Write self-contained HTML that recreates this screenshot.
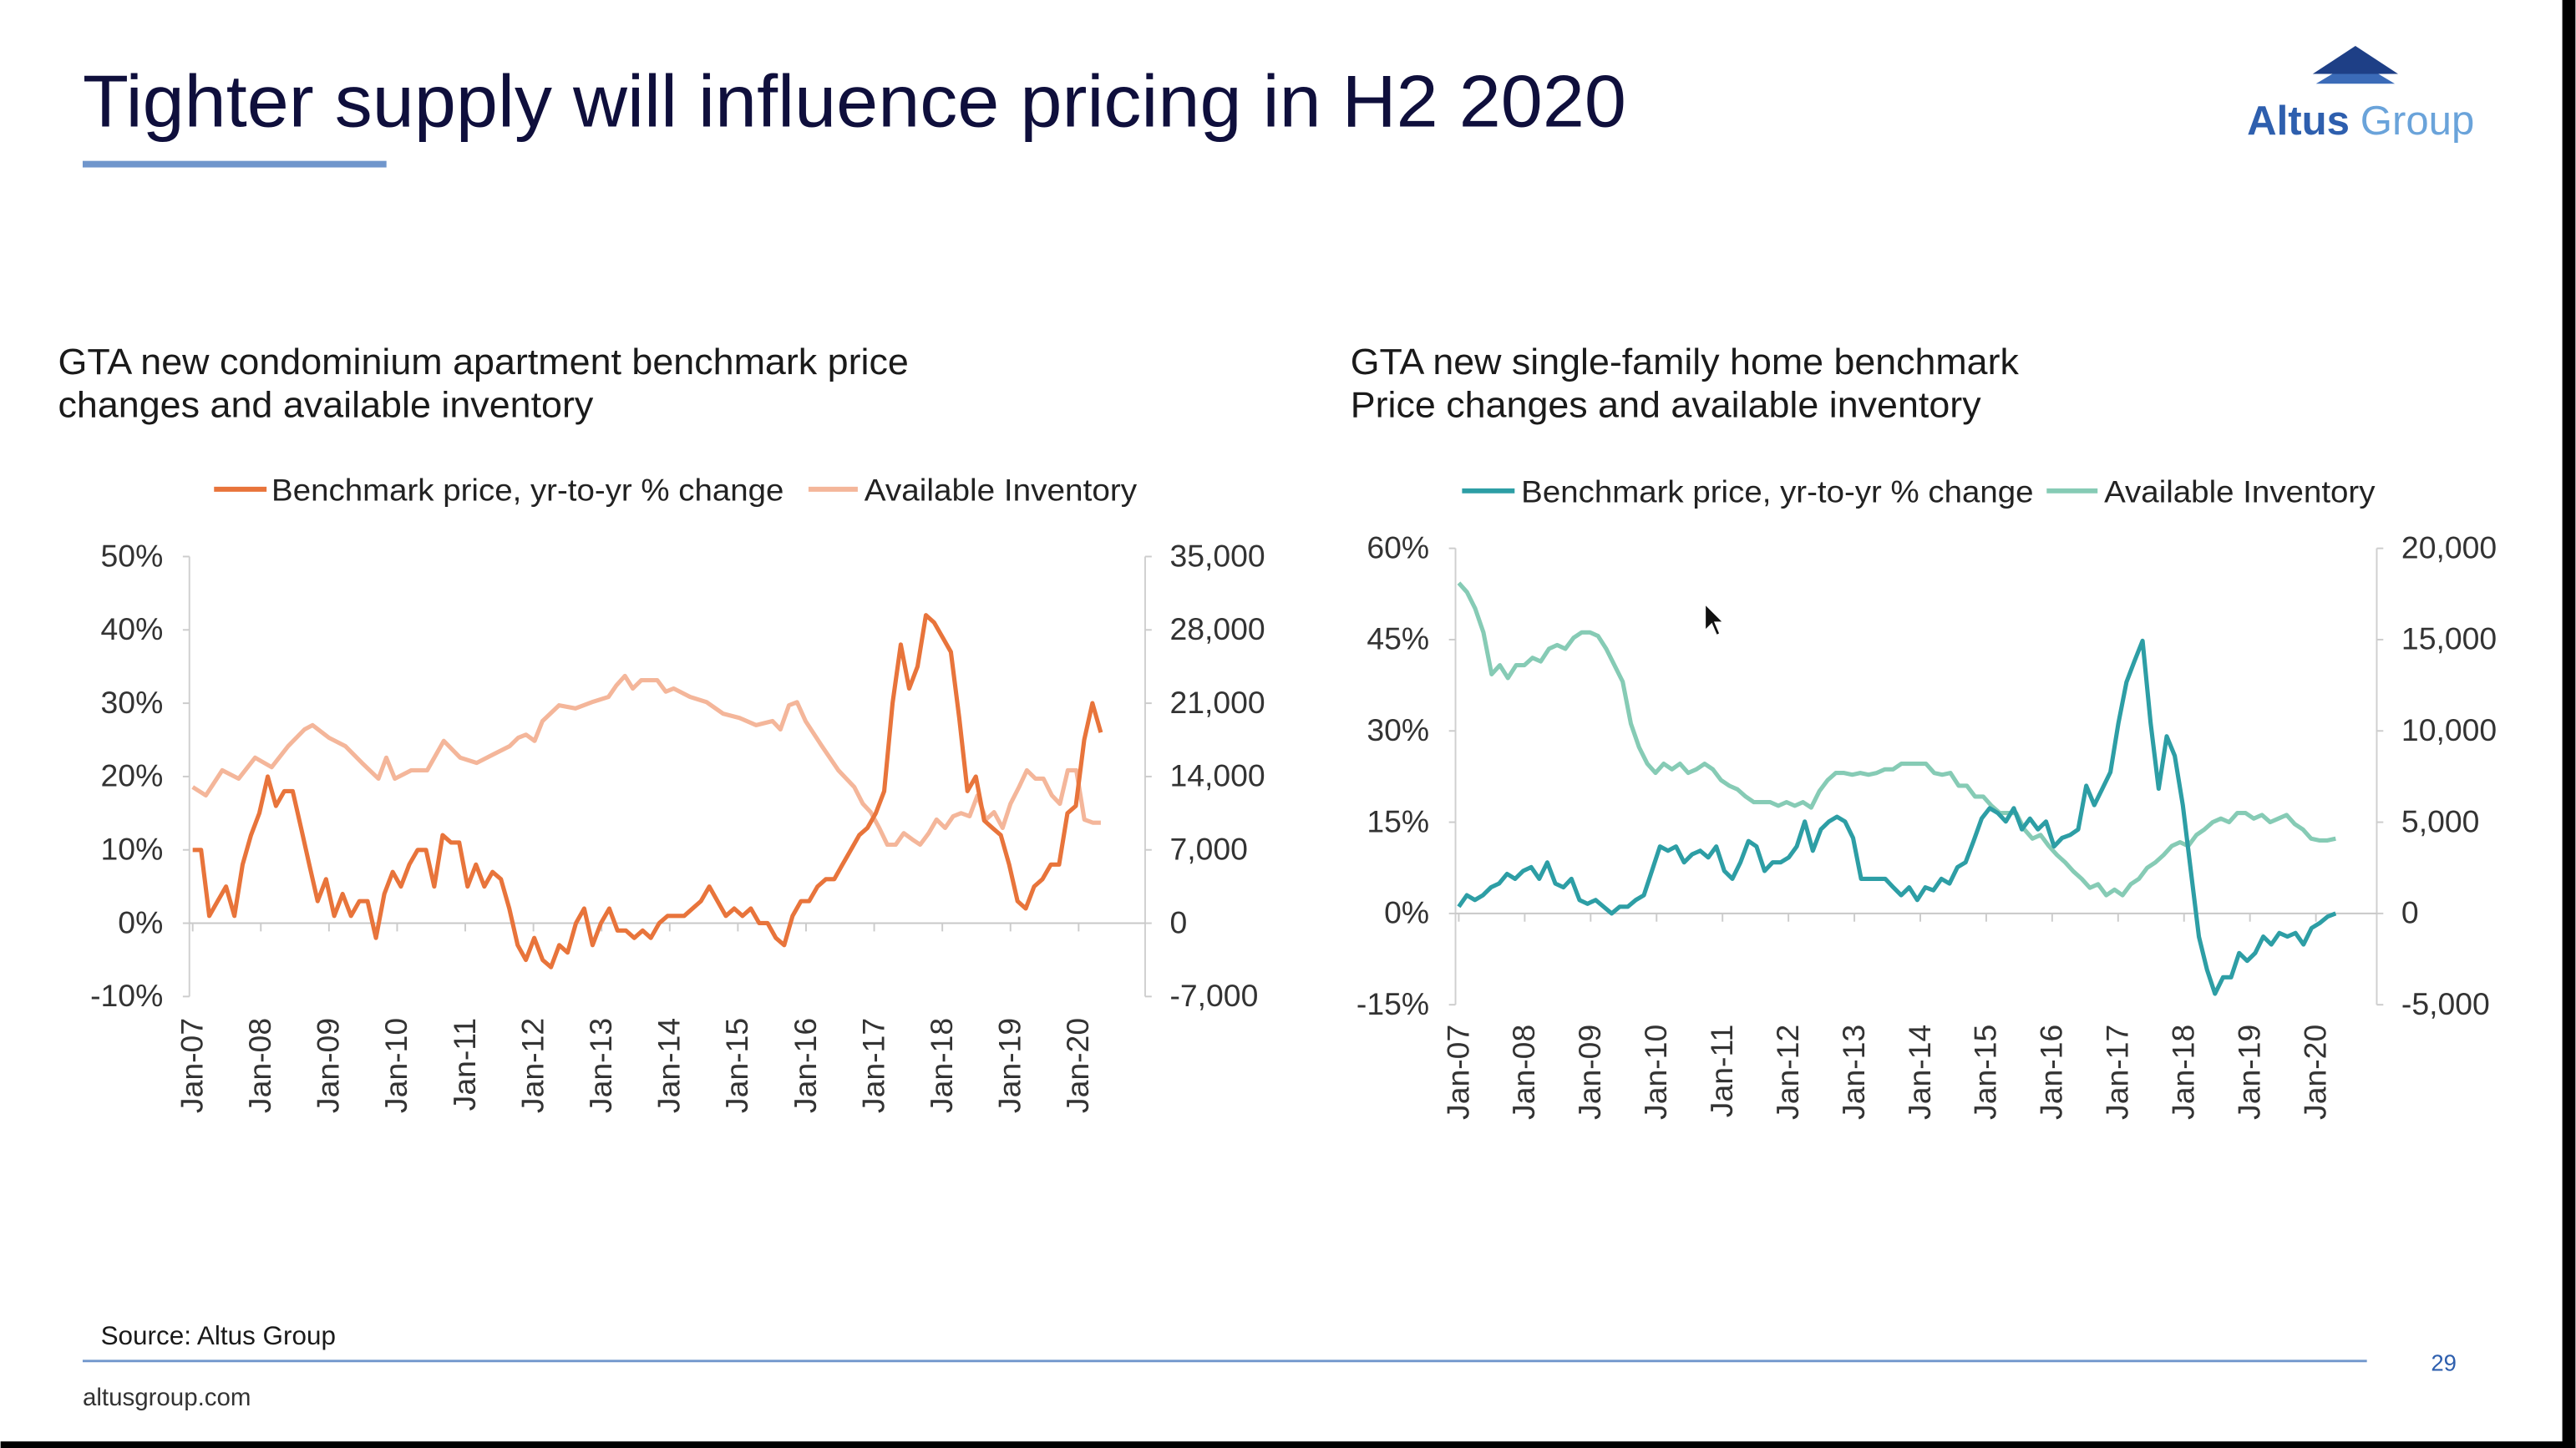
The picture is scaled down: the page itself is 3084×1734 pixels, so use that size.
<!DOCTYPE html>
<html><head><meta charset="utf-8"><style>
html,body{margin:0;padding:0;background:#fff;overflow:hidden}
svg{display:block;font-family:"Liberation Sans",Arial,sans-serif}
</style></head><body>
<svg id="s" width="3084" height="1734" viewBox="0 0 1568 882" xmlns="http://www.w3.org/2000/svg">
<rect width="1568" height="882" fill="#fff"/>
<text x="50" y="77" font-size="45" fill="#0f0f3c" textLength="940" lengthAdjust="spacingAndGlyphs">Tighter supply will influence pricing in H2 2020</text>
<rect x="50" y="98" width="185" height="4" fill="#7096cc"/>
<g>
<polygon points="1434,28 1408,45 1460,45" fill="#1e3f86"/>
<polygon points="1420,45 1448,45 1458,51 1410,51" fill="#3b6bb8"/>
<text x="1368" y="82" font-size="25" font-weight="bold" fill="#2e5fae">Altus</text>
<text x="1437" y="82" font-size="25" fill="#6aa3da">Group</text>
</g>
<text x="35" y="228" font-size="22" fill="#1a1a1a" textLength="518" lengthAdjust="spacingAndGlyphs">GTA new condominium apartment benchmark price</text>
<text x="35" y="254" font-size="22" fill="#1a1a1a" textLength="326" lengthAdjust="spacingAndGlyphs">changes and available inventory</text>
<text x="822" y="228" font-size="22" fill="#1a1a1a" textLength="407" lengthAdjust="spacingAndGlyphs">GTA new single-family home benchmark</text>
<text x="822" y="254" font-size="22" fill="#1a1a1a" textLength="384" lengthAdjust="spacingAndGlyphs">Price changes and available inventory</text>
<g font-size="19" fill="#222">
<line x1="130" y1="298" x2="162" y2="298" stroke="#e8743b" stroke-width="3"/>
<text x="165" y="305" textLength="312" lengthAdjust="spacingAndGlyphs">Benchmark price, yr-to-yr % change</text>
<line x1="492" y1="298" x2="522" y2="298" stroke="#f4b69a" stroke-width="3"/>
<text x="526" y="305" textLength="166" lengthAdjust="spacingAndGlyphs">Available Inventory</text>
</g>
<g font-size="19" fill="#222">
<line x1="890" y1="299" x2="922" y2="299" stroke="#2d9ea5" stroke-width="3"/>
<text x="926" y="306" textLength="312" lengthAdjust="spacingAndGlyphs">Benchmark price, yr-to-yr % change</text>
<line x1="1246" y1="299" x2="1277" y2="299" stroke="#86cbb5" stroke-width="3"/>
<text x="1281" y="306" textLength="165" lengthAdjust="spacingAndGlyphs">Available Inventory</text>
</g>
<g id="charts"></g>
<polygon points="1038,368 1038,384 1042,380 1045,387 1047,386 1044,379 1049,379" fill="#111" stroke="#fff" stroke-width="0.8"/>
<text x="61" y="819" font-size="16" fill="#1a1a1a">Source: Altus Group</text>
<line x1="50" y1="829" x2="1441" y2="829" stroke="#7096cc" stroke-width="1.5"/>
<text x="1480" y="835" font-size="14" fill="#2e5fae">29</text>
<text x="50" y="856" font-size="15" fill="#333">altusgroup.com</text>
<rect x="0" y="878" width="1568" height="4" fill="#000"/>
<rect x="1560" y="0" width="8" height="882" fill="#000"/>
</svg>
<script>
const yearLabels = ["Jan-07","Jan-08","Jan-09","Jan-10","Jan-11","Jan-12","Jan-13","Jan-14","Jan-15","Jan-16","Jan-17","Jan-18","Jan-19","Jan-20"];
const condoPctTicks = ["50%","40%","30%","20%","10%","0%","-10%"];
const condoInvTicks = ["35,000","28,000","21,000","14,000","7,000","0","-7,000"];
const sfPctTicks = ["60%","45%","30%","15%","0%","-15%"];
const sfInvTicks = ["20,000","15,000","10,000","5,000","0","-5,000"];
// condo price yr-to-yr % change (evenly spaced Jan-07 .. May-20)
const condoPrice = [10,10,1,3,5,1,8,12,15,20,16,18,18,13,8,3,6,1,4,1,3,3,-2,4,7,5,8,10,10,5,12,11,11,5,8,5,7,6,2,-3,-5,-2,-5,-6,-3,-4,0,2,-3,0,2,-1,-1,-2,-1,-2,0,1,1,1,2,3,5,3,1,2,1,2,0,0,-2,-3,1,3,3,5,6,6,8,10,12,13,15,18,30,38,32,35,42,41,39,37,28,18,20,14,13,12,8,3,2,5,6,8,8,15,16,25,30,26];
// condo inventory: months since Jan-07 and values (thousands)
const condoInvMonths = [0,2.3,5.2,8.1,11,13.9,16.8,19.7,21.1,24,26.9,29.8,32.7,34.1,35.6,38.5,41.3,44.2,47.1,50,52.9,55.8,57.3,58.7,60.2,61.6,64.5,67.4,70.3,73.2,74.6,76.1,77.5,79,81.8,83.3,84.7,87.6,90.5,93.4,96.3,99.2,102.1,103.5,105,106.4,107.9,110.8,113.7,116.5,118,119.4,120.9,122.3,123.8,125.2,126.7,128.1,129.6,131,132.5,133.9,135.3,136.8,138.2,139.7,141.1,142.6,144,145.5,146.9,148.4,149.8,151.3,152.7,154.1,155.6,157,158.5,159.9];
const condoInv = [13.0,12.2,14.6,13.8,15.8,14.9,16.9,18.5,18.9,17.7,16.9,15.3,13.8,15.8,13.8,14.6,14.6,17.4,15.8,15.3,16.1,16.9,17.7,18.0,17.4,19.3,20.8,20.5,21.1,21.6,22.7,23.6,22.4,23.2,23.2,22.1,22.4,21.6,21.1,20.0,19.6,18.9,19.3,18.5,20.8,21.1,19.3,16.9,14.6,13.0,11.4,10.6,9.1,7.5,7.5,8.6,8.0,7.5,8.6,9.9,9.1,10.2,10.5,10.2,12.2,9.9,10.6,9.1,11.4,13.0,14.6,13.8,13.8,12.2,11.4,14.6,14.6,9.9,9.6,9.6];
// single-family price yr-to-yr % change (evenly spaced)
const sfPrice = [1.1,3,2.2,3,4.3,4.9,6.5,5.7,7,7.6,5.7,8.4,4.9,4.3,5.7,2.2,1.6,2.2,1.1,0,1.1,1.1,2.2,3,7,11,10.3,11,8.4,9.7,10.3,9.2,11,7,5.7,8.4,11.9,11,7,8.4,8.4,9.2,11,15.1,10.3,13.8,15.1,15.9,15.1,12.4,5.7,5.7,5.7,5.7,4.3,3,4.3,2.2,4.3,3.8,5.7,4.9,7.6,8.4,11.9,15.6,17.3,16.5,15.1,17.3,13.8,15.6,13.8,15.1,11,12.4,12.9,13.8,21,17.8,20.5,23.2,31.3,38,41.5,44.8,31.3,20.5,29.1,25.9,17.8,7,-3.8,-9.2,-13.2,-10.5,-10.5,-6.5,-7.8,-6.5,-3.8,-5.1,-3.2,-3.8,-3.2,-5.1,-2.4,-1.6,-0.5,0];
// single-family inventory (thousands, evenly spaced)
const sfInv = [18.1,17.6,16.7,15.4,13.1,13.6,12.9,13.6,13.6,14.0,13.8,14.5,14.7,14.5,15.1,15.4,15.4,15.2,14.5,13.6,12.7,10.4,9.1,8.2,7.7,8.2,7.9,8.2,7.7,7.9,8.2,7.9,7.3,7.0,6.8,6.4,6.1,6.1,6.1,5.9,6.1,5.9,6.1,5.8,6.7,7.3,7.7,7.7,7.6,7.7,7.6,7.7,7.9,7.9,8.2,8.2,8.2,8.2,7.7,7.6,7.7,7.0,7.0,6.4,6.4,5.9,5.5,5.5,5.5,4.6,4.1,4.3,3.7,3.2,2.8,2.3,1.9,1.4,1.6,1.0,1.3,1.0,1.6,1.9,2.5,2.8,3.2,3.7,3.9,3.7,4.3,4.6,5.0,5.2,5.0,5.5,5.5,5.2,5.4,5.0,5.2,5.4,4.9,4.6,4.1,4.0,4.0,4.1];

const NS="http://www.w3.org/2000/svg";
const root=document.getElementById('charts');
function mk(tag,attrs,parent){const e=document.createElementNS(NS,tag);for(const k in attrs)e.setAttribute(k,attrs[k]);(parent||root).appendChild(e);return e;}

function chart(cfg){
  const g=mk('g',{});
  
  
  const yL=v=>cfg.y0+(cfg.lMax-v)/(cfg.lMax-cfg.lMin)*(cfg.y1-cfg.y0);
  const yR=v=>cfg.y0+(cfg.rMax-v)/(cfg.rMax-cfg.rMin)*(cfg.y1-cfg.y0);
  const xYear=i=>cfg.xStart+i*cfg.yearW;
  const xMonth=m=>cfg.xStart+m/12*cfg.yearW;
  const xSeries=(i,n)=>cfg.xStart+i/(n-1)*(cfg.xEnd-cfg.xStart);
  const la=mk('line',{x1:cfg.axL,y1:cfg.y0,x2:cfg.axL,y2:cfg.y1,stroke:'#d0d0d0','stroke-width':1},g);
  
  
  const ra=mk('line',{x1:cfg.axR,y1:cfg.y0,x2:cfg.axR,y2:cfg.y1,stroke:'#d0d0d0','stroke-width':1},g);
  
  
  const y0v=yL(0);
  const xa=mk('line',{x1:cfg.axL,y1:y0v,x2:cfg.axR,y2:y0v,stroke:'#c8c8c8','stroke-width':1},g);
  
  
  cfg.lTicks.forEach((t,i)=>{
    const y=cfg.y0+i*(cfg.y1-cfg.y0)/(cfg.lTicks.length-1);
    mk('line',{x1:cfg.axL-4,y1:y,x2:cfg.axL,y2:y,stroke:'#ccc'},g);
    const tx=mk('text',{x:cfg.axL-16,y:y+6,'font-size':19,fill:'#333','text-anchor':'end'},g);
    tx.textContent=t;
    
    
  });
  cfg.rTicks.forEach((t,i)=>{
    const y=cfg.y0+i*(cfg.y1-cfg.y0)/(cfg.rTicks.length-1);
    mk('line',{x1:cfg.axR,y1:y,x2:cfg.axR+4,y2:y,stroke:'#ccc'},g);
    const tx=mk('text',{x:cfg.axR+15,y:y+6,'font-size':19,fill:'#333'},g);
    tx.textContent=t;
    
    
  });
  yearLabels.forEach((t,i)=>{
    const x=xYear(i);
    mk('line',{x1:x,y1:y0v,x2:x,y2:y0v+5,stroke:'#ccc'},g);
    const tx=mk('text',{x:0,y:0,'font-size':19,fill:'#333','text-anchor':'end',transform:`translate(${x+6},${cfg.labY}) rotate(-90)`},g);
    tx.textContent=t;
    
    
  });
  const pInv=cfg.inv.map((v,i)=>{const x=cfg.invMonths?xMonth(cfg.invMonths[i]):xSeries(i,cfg.inv.length);return `${x.toFixed(1)},${yR(v*1000).toFixed(1)}`;}).join(' ');
  const l2=mk('polyline',{points:pInv,fill:'none',stroke:cfg.c2,'stroke-width':2.6,'stroke-linejoin':'round'},g);
  
  
  const pPr=cfg.price.map((v,i)=>`${xSeries(i,cfg.price.length).toFixed(1)},${yL(v).toFixed(1)}`).join(' ');
  const l1=mk('polyline',{points:pPr,fill:'none',stroke:cfg.c1,'stroke-width':2.6,'stroke-linejoin':'round'},g);
  
  
}
chart({name:'condo-chart',y0:339,y1:607,lMax:50,lMin:-10,rMax:35000,rMin:-7000,axL:115,axR:697,xStart:117,yearW:41.5,xEnd:670,labY:620,lTicks:condoPctTicks,rTicks:condoInvTicks,price:condoPrice,inv:condoInv,invMonths:condoInvMonths,c1:'#e8743b',c2:'#f4b69a'});
chart({name:'single-family-chart',y0:334,y1:612,lMax:60,lMin:-15,rMax:20000,rMin:-5000,axL:886,axR:1447,xStart:888,yearW:40.15,xEnd:1422,labY:624,lTicks:sfPctTicks,rTicks:sfInvTicks,price:sfPrice,inv:sfInv,c1:'#2d9ea5',c2:'#86cbb5'});
</script>
</body></html>
